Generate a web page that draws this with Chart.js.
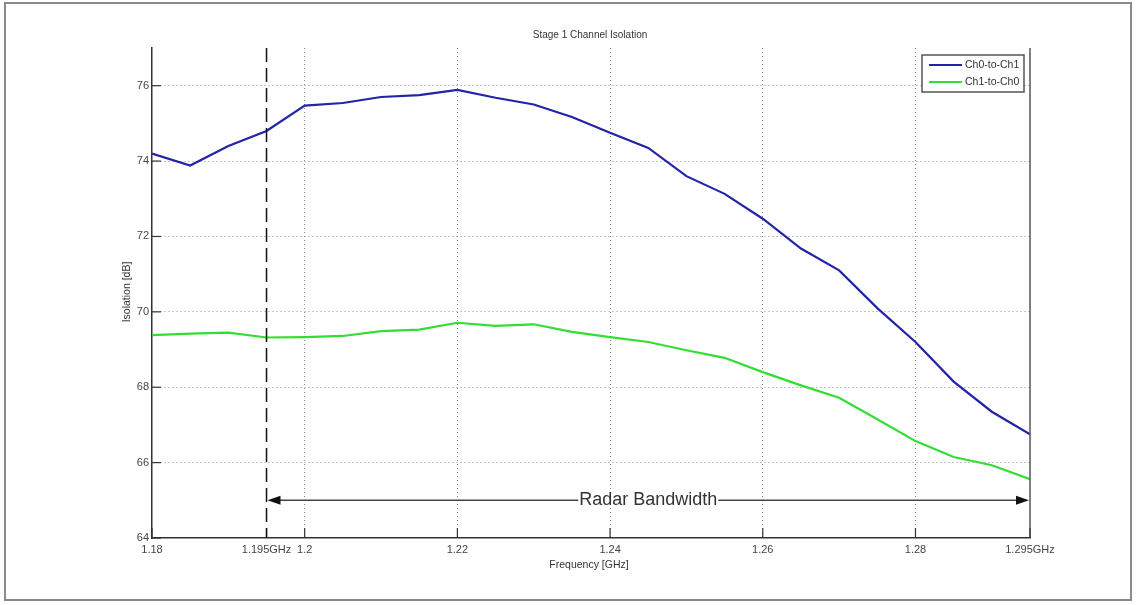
<!DOCTYPE html>
<html lang="en">
<head>
    <meta charset="UTF-8">
    <title>Stage 1 Channel Isolation</title>
    <script src="https://cdn.jsdelivr.net/npm/chart.js@4.4.0/dist/chart.umd.min.js"></script>
    <style>
        html, body { margin: 0; padding: 0; background: #fff; }
        canvas { display: block; }
    </style>
</head>
<body>
    <canvas id="isoChart" width="1136" height="605"></canvas>

    <script>
        // frequency points (GHz)
        const freqs = [1.18, 1.185, 1.19, 1.195, 1.2, 1.205, 1.21, 1.215, 1.22, 1.225, 1.23, 1.235,
                       1.24, 1.245, 1.25, 1.255, 1.26, 1.265, 1.27, 1.275, 1.28, 1.285, 1.29, 1.295];

        // isolation values (dB)
        const ch0ToCh1 = [74.2, 73.88, 74.4, 74.8, 75.47, 75.54, 75.7, 75.75, 75.89, 75.68, 75.5, 75.17,
                          74.75, 74.35, 73.6, 73.13, 72.47, 71.68, 71.1, 70.1, 69.2, 68.15, 67.35, 66.75];
        const ch1ToCh0 = [69.38, 69.42, 69.45, 69.32, 69.33, 69.36, 69.49, 69.53, 69.71, 69.63, 69.67, 69.47,
                          69.33, 69.2, 68.98, 68.78, 68.4, 68.05, 67.72, 67.15, 66.57, 66.15, 65.93, 65.56];

        const xTickValues = [1.18, 1.195, 1.2, 1.22, 1.24, 1.26, 1.28, 1.295];
        const xTickLabels = ['1.18', '1.195GHz', '1.2', '1.22', '1.24', '1.26', '1.28', '1.295GHz'];
        const yTickValues = [64, 66, 68, 70, 72, 74, 76];

        // radar band annotation
        const bandStart = 1.195;
        const bandEnd = 1.295;
        const bandArrowLevel = 65;
        const bandLabel = 'Radar Bandwidth';

        const FONT = '"Liberation Sans", Arial, sans-serif';

        const decorPlugin = {
            id: 'decor',
            beforeDraw(chart) {
                const c = chart.ctx;
                c.save();
                c.fillStyle = '#fff';
                c.fillRect(0, 0, chart.width, chart.height);
                c.strokeStyle = '#8a8a8a';
                c.lineWidth = 2;
                c.strokeRect(5, 3, 1126, 597);
                c.restore();
            },
            afterDraw(chart) {
                const c = chart.ctx;
                const area = chart.chartArea;
                const xs = chart.scales.x;
                const ys = chart.scales.y;
                c.save();

                // right axis line
                c.strokeStyle = '#555';
                c.lineWidth = 1.5;
                c.beginPath();
                c.moveTo(area.right, area.top);
                c.lineTo(area.right, area.bottom);
                c.stroke();

                // inward tick marks (left and bottom only)
                c.strokeStyle = '#333';
                c.lineWidth = 1.2;
                yTickValues.forEach(v => {
                    const py = ys.getPixelForValue(v);
                    c.beginPath();
                    c.moveTo(area.left, py);
                    c.lineTo(area.left + 9, py);
                    c.stroke();
                });
                xTickValues.forEach(v => {
                    const px = xs.getPixelForValue(v);
                    c.beginPath();
                    c.moveTo(px, area.bottom);
                    c.lineTo(px, area.bottom - 10);
                    c.stroke();
                });

                // dashed band start marker
                const xStart = xs.getPixelForValue(bandStart);
                c.strokeStyle = '#111';
                c.lineWidth = 1.5;
                c.setLineDash([14, 6]);
                c.beginPath();
                c.moveTo(xStart, area.top);
                c.lineTo(xStart, area.bottom);
                c.stroke();
                c.setLineDash([]);

                // radar bandwidth arrow
                const xEnd = xs.getPixelForValue(bandEnd);
                const ay = ys.getPixelForValue(bandArrowLevel);
                c.font = '18px ' + FONT;
                const tw = c.measureText(bandLabel).width;
                const mid = (xStart + xEnd) / 2;
                c.strokeStyle = '#444';
                c.lineWidth = 1.5;
                c.beginPath();
                c.moveTo(xStart + 12, ay);
                c.lineTo(mid - tw / 2 - 1, ay);
                c.moveTo(mid + tw / 2 + 1, ay);
                c.lineTo(xEnd - 12, ay);
                c.stroke();
                c.fillStyle = '#111';
                c.beginPath();
                c.moveTo(xStart + 1, ay);
                c.lineTo(xStart + 14, ay - 4.5);
                c.lineTo(xStart + 14, ay + 4.5);
                c.closePath();
                c.fill();
                c.beginPath();
                c.moveTo(xEnd - 1, ay);
                c.lineTo(xEnd - 14, ay - 4.5);
                c.lineTo(xEnd - 14, ay + 4.5);
                c.closePath();
                c.fill();
                c.fillStyle = '#333';
                c.textAlign = 'center';
                c.textBaseline = 'middle';
                c.fillText(bandLabel, mid, ay);

                // title and axis titles
                c.fillStyle = '#333';
                c.font = '10px ' + FONT;
                c.fillText('Stage 1 Channel Isolation', 590, 35);
                c.font = '10.5px ' + FONT;
                c.fillText('Frequency [GHz]', 589, 565);
                c.save();
                c.translate(127, 292);
                c.rotate(-Math.PI / 2);
                c.fillText('Isolation [dB]', 0, 0);
                c.restore();

                // legend box
                c.fillStyle = '#fff';
                c.fillRect(922, 55, 102, 37);
                c.strokeStyle = '#555';
                c.lineWidth = 1.5;
                c.strokeRect(922, 55, 102, 37);
                chart.data.datasets.forEach((ds, i) => {
                    const ly = 65 + i * 17;
                    c.strokeStyle = ds.borderColor;
                    c.lineWidth = 2;
                    c.beginPath();
                    c.moveTo(929, ly);
                    c.lineTo(962, ly);
                    c.stroke();
                    c.fillStyle = '#333';
                    c.font = '10.5px ' + FONT;
                    c.textAlign = 'left';
                    c.fillText(ds.label, 965, ly);
                });

                c.restore();
            }
        };

        const ctx = document.getElementById('isoChart').getContext('2d');
        const isoChart = new Chart(ctx, {
            type: 'line',
            data: {
                datasets: [
                    {
                        label: 'Ch0-to-Ch1',
                        data: freqs.map((f, i) => ({ x: f, y: ch0ToCh1[i] })),
                        borderColor: '#2323a8',
                        borderWidth: 2.2,
                        pointRadius: 0,
                        tension: 0,
                        fill: false
                    },
                    {
                        label: 'Ch1-to-Ch0',
                        data: freqs.map((f, i) => ({ x: f, y: ch1ToCh0[i] })),
                        borderColor: '#33dd33',
                        borderWidth: 2.2,
                        pointRadius: 0,
                        tension: 0,
                        fill: false
                    }
                ]
            },
            options: {
                responsive: false,
                animation: false,
                events: [],
                layout: {
                    padding: { left: 0, right: 106, top: 48, bottom: 0 }
                },
                plugins: {
                    legend: { display: false },
                    title: { display: false },
                    tooltip: { enabled: false }
                },
                scales: {
                    x: {
                        type: 'linear',
                        min: 1.18,
                        max: 1.295,
                        afterBuildTicks: scale => {
                            scale.ticks = xTickValues.map(v => ({ value: v }));
                        },
                        afterFit: scale => { scale.height = 67; },
                        ticks: {
                            autoSkip: false,
                            maxRotation: 0,
                            padding: 5,
                            color: '#444',
                            font: { family: FONT, size: 11 },
                            callback: (v, i) => xTickLabels[i]
                        },
                        grid: {
                            drawTicks: false,
                            lineWidth: 1,
                            color: c => {
                                const v = c.tick ? c.tick.value : null;
                                return (v > 1.196 && v < 1.29) ? '#8c8c8c' : 'rgba(0,0,0,0)';
                            }
                        },
                        border: { display: true, color: '#333', width: 1.5, dash: [1, 3] }
                    },
                    y: {
                        min: 64,
                        max: 77,
                        afterBuildTicks: scale => {
                            scale.ticks = yTickValues.map(v => ({ value: v }));
                        },
                        afterFit: scale => { scale.width = 152; },
                        ticks: {
                            padding: 3,
                            color: '#444',
                            font: { family: FONT, size: 11 }
                        },
                        grid: {
                            drawTicks: false,
                            lineWidth: 1,
                            color: c => {
                                const v = c.tick ? c.tick.value : null;
                                return (v > 65 && v < 77) ? '#8c8c8c' : 'rgba(0,0,0,0)';
                            }
                        },
                        border: { display: true, color: '#333', width: 1.5, dash: [1, 3] }
                    }
                }
            },
            plugins: [decorPlugin]
        });
    </script>
</body>
</html>
